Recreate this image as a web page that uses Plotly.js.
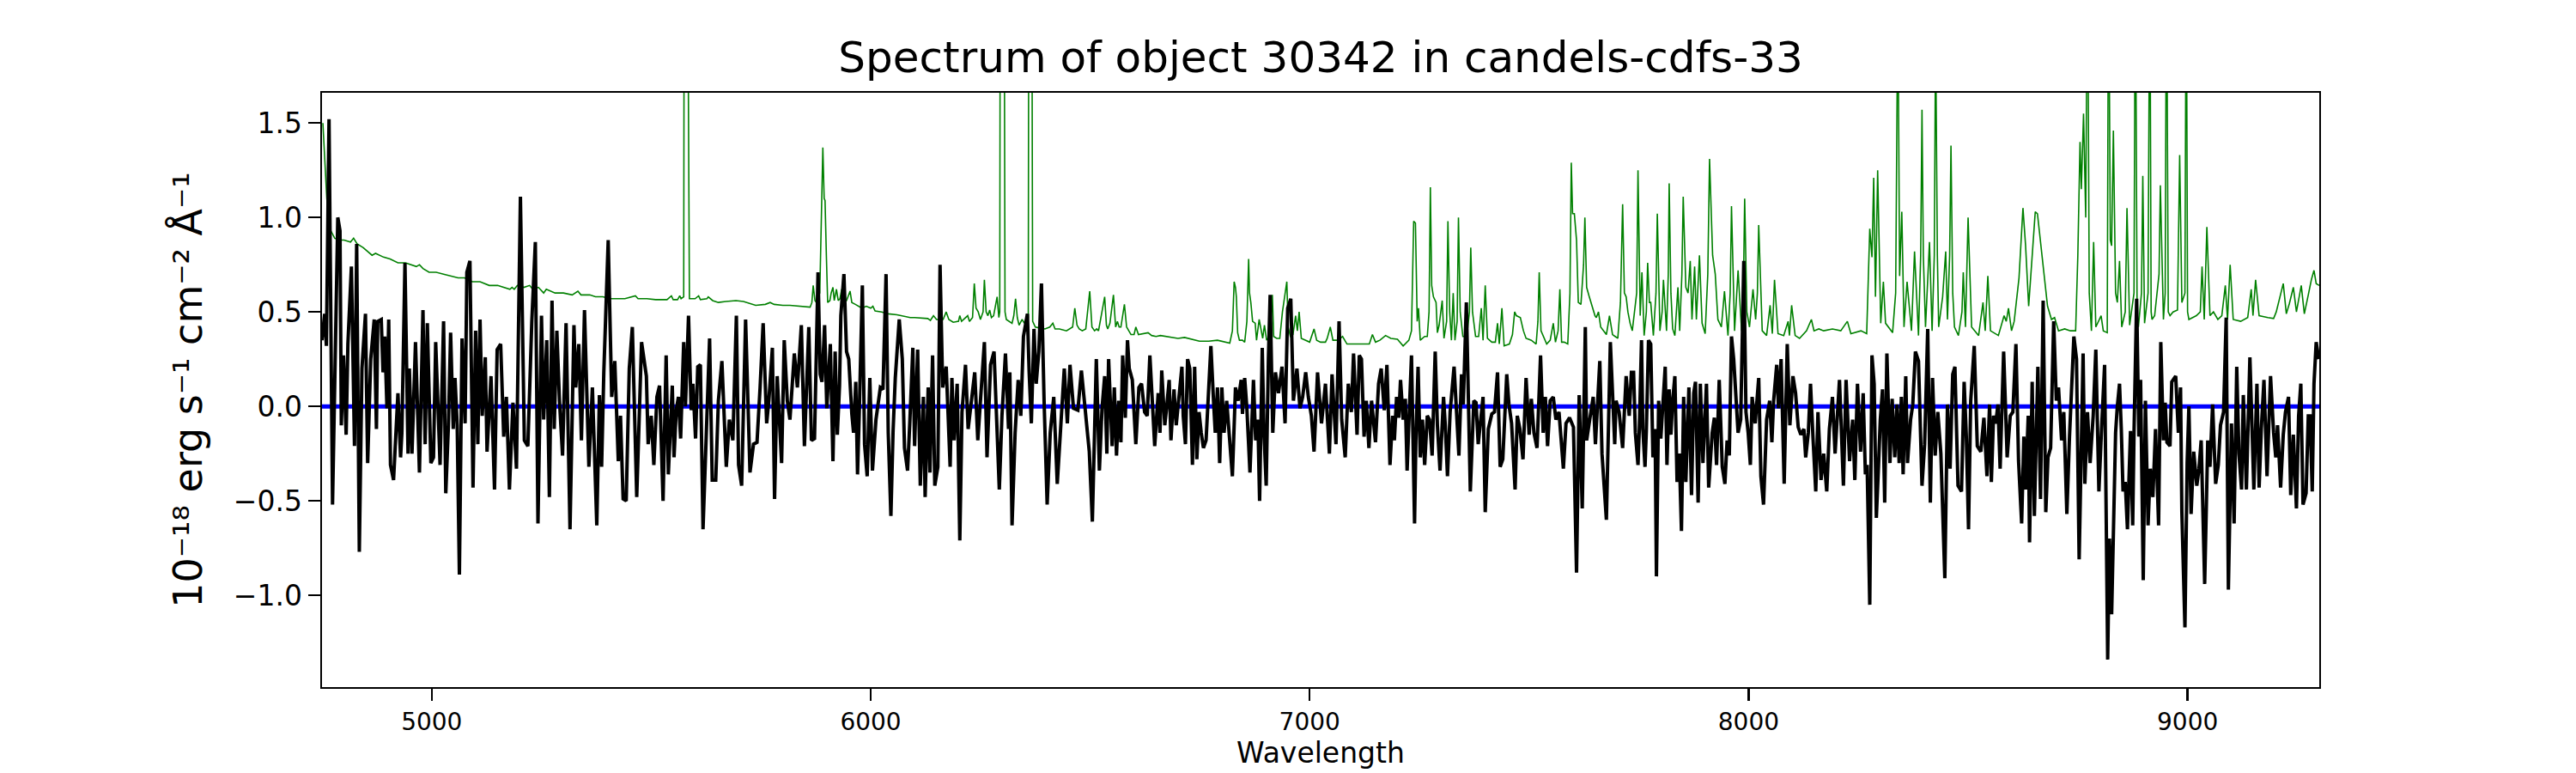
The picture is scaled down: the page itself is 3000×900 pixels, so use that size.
<!DOCTYPE html>
<html>
<head>
<meta charset="utf-8">
<script src="https://cdn.plot.ly/plotly-3.0.1.min.js"></script>
<style>html,body{margin:0;padding:0;background:#fff;}#chart{width:3000px;height:900px;}</style>
</head>
<body>
<div id="chart"></div>
<script>
// Observed spectrum (black)
var specWave = [4750,4756,4760,4766,4774,4786,4791,4794,4799,4805,4809,4817,4824,4829,4835,4841,4849,4854,4861,4869,4874,4877,4885,4889,4893,4898,4902,4906,4913,4923,4929,4932,4939,4946,4949,4955,4963,4972,4980,4985,4990,4998,5004,5009,5019,5027,5032,5038,5043,5049,5053,5058,5063,5069,5076,5080,5087,5094,5100,5105,5110,5115,5122,5126,5135,5143,5149,5157,5164,5170,5177,5185,5193,5202,5211,5219,5228,5236,5242,5250,5255,5262,5268,5274,5279,5285,5291,5298,5306,5315,5324,5328,5335,5341,5348,5358,5366,5376,5382,5387,5392,5402,5410,5417,5425,5430,5436,5443,5450,5457,5467,5478,5489,5493,5500,5506,5513,5519,5527,5534,5539,
5548,5552,5557,5562,5567,5574,5578,5585,5591,5595,5601,5606,5612,5618,5624,5633,5639,5647,5653,5661,5671,5678,5686,5694,5699,5706,5715,5725,5733,5741,5748,5755,5763,5768,5776,5781,5787,5797,5803,5810,5816,5823,5826,5833,5842,5849,5859,5865,5872,5880,5885,5889,5895,5900,5908,5914,5919,5924,5929,5932,5939,5945,5950,5957,5961,5966,5970,5974,5981,5986,5992,5998,6004,6012,6022,6028,6035,6040,6046,6051,6056,6065,6072,6077,6084,6089,
6096,6100,6107,6113,6120,6124,6131,6135,6141,6146,6153,6158,6164,6172,6181,6185,6190,6197,6203,6208,6216,6222,6229,6237,6244,6250,6259,6265,6273,6281,6286,6293,6299,6307,6314,6317,6322,6329,6336,6342,6348,6357,6361,6366,6372,6377,6383,6389,6395,6402,6409,6417,6425,6433,6441,6448,6454,6462,6472,6480,6488,6498,6505,6509,6514,6521,6527,6533,6538,6542,6550,6555,6560,6565,6570,6574,6580,6585,6589,6596,6604,6611,6617,6624,6630,6636,
6642,6647,6655,6659,6663,6670,6674,6680,6684,6691,6696,6702,6709,6712,6717,6722,6727,6733,6738,6743,6748,6753,6758,6764,6769,6775,6781,6785,6790,6795,6800,6805,6811,6818,6824,6831,6837,6844,6847,6852,6857,6864,6872,6877,6882,6886,6892,6896,6901,6906,6910,6916,6922,6929,6937,6944,6950,6957,6963,6971,6978,6984,6991,6997,7004,7010,7018,7027,7036,7045,7051,7060,7067,7073,7081,7088,7095,7100,7108,7113,7118,7124,7129,7135,7141,7150,7157,7163,7170,7176,7183,
7189,7193,7198,7203,7207,7213,7218,7222,7227,7232,7239,7242,7247,7252,7257,7262,7268,7273,7279,7286,7291,7297,7305,7309,7314,7320,7329,7333,7340,7346,7350,7357,7361,7366,7374,7379,7384,7391,7395,7400,7407,7415,7421,7428,7434,7440,7444,7449,7454,7460,7468,7473,7479,7486,7493,7500,7505,7511,7518,7526,7532,7537,7542,7548,7555,7561,7568,7578,7584,7592,7601,7608,7614,7621,7628,7631,7638,7646,7651,7661,7666,7676,7685,7695,7698,7705,7713,7721,7728,7733,
7738,7742,7748,7751,7756,7759,7764,7767,7772,7777,7782,7787,7790,7795,7800,7806,7810,7814,7819,7823,7827,7832,7837,7842,7847,7852,7857,7864,7870,7875,7879,7885,7890,7896,7904,7909,7917,7922,7927,7933,7940,7946,7951,7956,7961,7966,7971,7976,7982,7989,7994,7999,8004,8008,8015,8023,8028,8034,8041,8048,8053,8057,8064,8068,8074,8081,8088,8094,8101,8107,8113,8119,8126,8130,8136,8141,8147,8153,8158,8165,8171,8178,8184,8191,8197,8207,8216,8222,8230,8237,8242,8248,8255,8261,8266,8270,8276,8281,
8286,8291,8296,8300,8305,8310,8315,8322,8327,8333,8338,8343,8348,8352,8358,8362,8369,8374,8380,8387,8395,8401,8408,8414,8419,8425,8431,8438,8447,8453,8459,8465,8470,8477,8485,8491,8496,8501,8506,8514,8521,8529,8536,8543,8549,8553,8558,8563,8568,8573,8581,8589,8596,8602,8609,8615,8622,8627,8631,8637,8640,8646,8651,8659,8665,8671,8677,8682,8688,8695,8701,8706,8713,8718,8725,8731,8741,8747,8753,8762,8766,8772,8778,8785,8791,8798,8804,8811,8818,8822,8827,
8836,8840,8845,8849,8853,8858,8863,8870,8875,8878,8884,8889,8893,8899,8904,8910,8915,8921,8927,8934,8939,8945,8949,8953,8960,8964,8973,8979,8984,8987,8994,8999,9003,9008,9014,9021,9026,9031,9039,9046,9051,9057,9064,9070,9075,9082,9088,9093,9100,9106,9112,9117,9123,9127,9134,9142,9147,9151,9158,9163,9168,9174,9181,9189,9196,9201,9205,9212,9218,9223,9230,9235,9241,9248,9253,9258,9263,9270,9275,9279,9284,9288,9293,9299];
var specFlux = [0.35,0.49,0.32,1.52,-0.52,1.00,0.93,-0.10,0.27,-0.15,0.33,0.74,-0.21,0.86,-0.77,0.20,0.49,-0.30,0.25,0.46,-0.12,0.45,0.46,0.18,0.37,-0.01,0.46,-0.31,-0.39,0.07,-0.27,-0.14,0.76,-0.25,0.20,-0.25,0.34,-0.35,0.51,-0.20,0.44,-0.30,-0.27,0.34,-0.31,0.45,-0.46,-0.10,0.39,-0.12,0.15,-0.10,-0.89,0.36,-0.09,0.71,0.77,-0.43,0.40,-0.20,0.46,-0.05,0.26,-0.24,0.16,-0.44,0.30,0.33,-0.16,0.05,-0.44,0.02,-0.33,1.11,-0.18,-0.21,0.45,0.87,-0.62,0.48,-0.07,0.35,-0.48,0.56,-0.12,0.40,0.03,-0.26,0.44,-0.65,0.43,0.10,0.33,-0.18,0.51,-0.32,0.10,-0.63,0.06,-0.32,0.18,0.88,0.05,0.24,-0.29,-0.05,-0.49,-0.50,0.20,0.42,-0.48,0.34,0.16,-0.20,-0.05,-0.31,0.05,0.11,-0.50,0.27,-0.36,
0.11,-0.27,-0.02,0.05,-0.17,0.34,0.00,0.48,-0.02,0.12,-0.17,0.21,0.22,-0.65,-0.26,0.36,-0.39,-0.39,0.03,0.24,-0.32,-0.07,-0.18,0.48,-0.31,-0.42,0.46,-0.35,-0.20,-0.19,0.10,0.44,-0.09,0.03,0.31,-0.49,0.16,-0.30,0.35,0.03,-0.07,0.15,0.28,0.10,0.43,-0.21,0.42,-0.18,-0.17,0.71,0.17,0.13,0.43,-0.01,0.33,-0.29,0.29,-0.15,0.11,0.48,0.70,0.29,0.25,-0.04,-0.14,0.13,-0.36,-0.03,0.64,-0.20,-0.37,0.15,-0.34,-0.07,0.10,0.09,0.70,-0.14,-0.58,-0.13,0.15,0.46,0.25,-0.22,-0.34,-0.09,
0.31,-0.21,0.30,-0.42,0.05,-0.48,0.10,-0.35,0.27,-0.42,-0.32,0.75,0.10,0.21,-0.32,0.15,-0.18,0.12,-0.71,-0.03,0.22,-0.12,0.03,0.18,-0.18,0.03,0.34,-0.27,0.22,0.29,-0.07,-0.44,-0.05,0.28,-0.12,0.18,-0.63,-0.14,0.14,-0.05,0.37,0.49,0.18,-0.09,0.41,0.12,0.29,0.65,0.03,-0.52,-0.14,0.05,-0.41,-0.10,0.20,-0.09,0.22,-0.01,-0.02,0.19,-0.01,-0.24,-0.61,-0.18,0.25,-0.34,-0.01,0.16,-0.25,0.25,-0.21,0.10,-0.26,0.03,-0.19,0.27,-0.06,0.35,0.20,0.14,-0.20,0.10,0.12,-0.03,-0.05,0.27,
0.01,-0.21,0.07,-0.14,0.19,-0.10,-0.01,0.14,-0.18,0.09,-0.10,0.03,0.21,-0.05,-0.20,0.25,0.20,-0.31,0.21,-0.28,-0.03,-0.14,-0.22,-0.18,0.07,0.32,0.03,-0.14,0.10,-0.30,0.10,-0.14,0.03,-0.16,-0.37,0.10,0.03,0.14,-0.04,0.15,-0.01,-0.35,0.14,-0.18,-0.07,-0.50,0.31,-0.14,-0.42,0.25,0.59,-0.14,0.18,0.07,0.21,-0.09,0.52,0.57,0.03,0.20,-0.01,0.05,0.18,0.05,-0.05,-0.24,0.18,-0.09,0.12,-0.25,0.17,-0.20,0.45,-0.07,-0.27,0.12,-0.03,0.28,-0.15,0.27,0.25,-0.16,0.03,-0.22,0.03,-0.19,0.12,0.20,-0.02,0.22,-0.31,
-0.05,-0.18,0.05,-0.06,0.14,-0.07,0.04,-0.34,-0.03,0.27,-0.62,-0.18,0.21,-0.27,-0.07,-0.31,-0.05,-0.07,-0.26,0.29,-0.10,-0.34,0.05,-0.10,-0.37,-0.03,0.21,0.03,-0.26,0.17,0.01,0.55,-0.01,-0.45,0.03,0.02,-0.20,-0.03,0.05,-0.56,-0.12,-0.04,-0.03,0.18,-0.32,-0.28,-0.10,0.17,0.01,-0.09,-0.44,-0.05,-0.12,-0.28,0.15,-0.15,0.04,-0.14,-0.22,0.27,-0.14,0.05,-0.21,0.03,0.05,-0.07,-0.03,-0.33,-0.09,-0.06,-0.11,-0.88,0.06,-0.54,0.42,-0.18,-0.07,0.05,-0.20,0.24,-0.25,-0.60,0.34,-0.20,0.03,-0.03,-0.22,0.16,-0.05,0.18,
0.18,-0.14,-0.31,-0.12,0.35,-0.12,-0.32,-0.13,0.35,0.33,-0.27,-0.12,-0.90,0.03,-0.17,0.03,0.21,-0.31,0.09,-0.15,0.03,0.16,-0.40,-0.25,-0.66,0.05,-0.40,0.10,-0.47,0.07,0.13,-0.51,0.12,-0.30,0.12,-0.43,-0.14,-0.06,-0.31,0.14,-0.32,-0.41,-0.18,-0.26,0.37,0.25,0.05,-0.14,-0.07,0.77,-0.03,-0.14,-0.31,0.05,-0.09,0.15,-0.37,-0.52,-0.07,0.03,-0.19,0.03,0.22,-0.01,0.25,-0.41,0.33,-0.10,0.16,0.07,-0.11,-0.15,-0.12,-0.27,-0.14,0.12,-0.18,-0.45,-0.03,-0.39,-0.25,-0.45,-0.12,0.05,-0.25,0.14,-0.42,0.14,-0.29,-0.07,-0.39,0.12,-0.24,0.07,-0.36,-0.31,-1.05,0.27,
0.12,-0.59,-0.31,-0.07,0.09,-0.51,0.28,-0.30,0.04,-0.27,0.01,-0.30,0.05,-0.36,0.16,-0.30,-0.07,0.01,0.29,0.24,-0.42,-0.20,0.41,-0.51,0.15,-0.26,-0.03,-0.25,-0.91,0.01,-0.33,0.17,0.21,-0.42,-0.45,0.13,-0.16,-0.65,0.03,0.32,-0.21,-0.24,-0.06,-0.37,0.01,-0.40,-0.05,-0.09,0.01,-0.33,0.29,-0.27,-0.05,-0.03,0.33,-0.29,-0.62,-0.16,-0.44,-0.05,-0.72,0.13,-0.58,0.21,-0.49,0.56,-0.56,-0.27,-0.22,0.45,0.03,0.10,-0.18,-0.03,-0.57,-0.16,0.37,0.25,-0.81,0.28,-0.41,-0.03,-0.30,-0.05,0.30,-0.45,-0.12,0.22,-1.34,-0.70,-1.10,
-0.14,0.00,0.12,-0.12,-0.45,-0.40,-0.65,-0.13,-0.63,-0.14,0.57,-0.16,0.14,-0.92,0.03,-0.63,-0.33,-0.48,-0.12,-0.63,0.34,-0.18,0.02,-0.19,-0.21,0.13,0.16,-0.14,0.10,-0.56,-1.17,-0.30,0.00,-0.57,-0.24,-0.42,-0.33,-0.18,-0.94,-0.18,-0.32,0.01,-0.41,-0.31,-0.10,-0.03,0.47,-0.97,-0.09,-0.62,0.21,-0.25,-0.44,0.06,-0.44,0.26,-0.10,-0.44,0.12,-0.43,-0.12,0.14,-0.37,0.16,-0.14,-0.27,-0.10,-0.43,-0.15,-0.03,0.05,-0.47,-0.15,-0.54,-0.05,0.12,-0.52,-0.46,-0.05,-0.05,-0.45,0.12,0.34,0.25];

// Sky / noise spectrum (green)
var skyWave = [4752,4757,4761,4766,4770,4779,4790,4800,4815,4822,4830,4844,4864,4872,4890,4905,4923,4940,4955,4965,4972,4980,4994,5010,5027,5045,5060,5075,5092,5110,5131,5150,5164,5178,5183,5188,5195,5210,5223,5230,5243,5255,5261,5270,5281,5300,5320,5333,5340,5360,5373,5390,5405,5420,5440,5464,5470,5490,5510,5536,
5546,5550,5560,5565,5568,5574,5576,5584,5587,5590,5600,5608,5612,5627,5630,5640,5653,5670,5693,5710,5738,5760,5771,5780,5800,5816,5840,5862,5866,5869,5873,5876,5884,5888,5891,5894,5896,5899,5902,5907,5910,5914,5917,5922,5926,5930,5934,5938,5945,5953,5957,5965,5972,5980,5990,6000,6005,6010,6025,6040,6060,6070,6090,
6100,6130,6136,6143,6150,6165,6172,6178,6188,6200,6203,6207,6221,6225,6232,6236,6240,6245,6250,6256,6259,6263,6267,6271,6275,6280,6288,6292,6294,6296,6304,6306,6309,6315,6322,6326,6330,6334,6338,6345,6350,6355,6359,6361,6367,6369,6375,6385,6397,6408,6415,6420,6430,6446,6460,6465,6470,6475,6482,6490,6499,6504,6510,6515,6519,6533,6537,6540,6545,6553,6558,6562,6566,6570,6578,6583,6593,6600,6604,6610,6620,6632,6640,
6650,6660,6684,6700,6715,6730,6749,6770,6790,6818,6824,6828,6831,6833,6836,6840,6847,6852,6857,6861,6863,6866,6870,6876,6879,6885,6889,6893,6897,6902,6908,6912,6915,6918,6925,6932,6938,6948,6951,6956,6962,6968,6972,6976,6981,6990,7000,7010,7016,7025,7036,7040,7047,7053,7065,7075,7085,7101,7120,7136,7143,7150,7160,7173,7185,
7200,7213,7226,7232,7237,7241,7245,7248,7252,7262,7268,7272,7275,7278,7282,7288,7291,7295,7302,7306,7312,7315,7319,7323,7327,7331,7336,7339,7343,7349,7358,7364,7367,7371,7378,7385,7391,7395,7400,7405,7415,7423,7428,7432,7438,7443,7455,7462,7467,7471,7480,7487,7493,7505,7516,7520,7523,7527,7532,7540,7548,7555,7560,7566,7570,7574,7580,7588,7593,7596,7599,7603,7608,7612,7618,7624,7627,7631,7637,7645,7650,7653,7658,7663,7670,7676,7683,7690,7696,7702,7708,7713,7717,7721,
7725,7730,7735,7745,7748,7753,7757,7762,7767,7770,7774,7777,7783,7789,7792,7798,7803,7806,7813,7817,7819,7823,7827,7832,7839,7843,7848,7851,7857,7862,7867,7871,7877,7881,7888,7894,7901,7907,7911,7918,7924,7930,7938,7945,7953,7958,7961,7968,7976,7984,7988,7991,7996,8002,8010,8016,8020,8023,8031,8041,8049,8054,8059,8067,8080,8090,8093,8098,8106,8116,8132,8143,8149,8160,8171,8191,8210,8225,8233,8256,8269,
8276,8281,8285,8289,8294,8301,8307,8312,8328,8335,8340,8344,8349,8354,8361,8371,8378,8387,8392,8395,8398,8403,8412,8418,8423,8426,8430,8433,8442,8449,8453,8458,8461,8465,8469,8478,8486,8489,8494,8500,8508,8524,8534,8539,8545,8551,8569,8582,8587,8592,8599,8605,8616,8625,8631,8638,8646,8653,8658,8666,8674,8681,8690,8697,8706,8720,8733,8745,8750,8755,8758,8763,8768,8772,8776,8781,8786,8791,8803,8808,8817,
8820,8824,8827,8831,8836,8840,8845,8850,8858,8862,8868,8878,8881,8885,8888,8895,8898,8902,8910,8914,8917,8919,8925,8935,8938,8945,8949,8952,8956,8960,8967,8977,8982,8987,8994,8997,9000,9003,9020,9029,9033,9038,9044,9051,9059,9069,9078,9086,9091,9097,9104,9121,9137,9145,9149,9155,9163,9183,9196,9202,9218,9225,9232,9241,9248,9259,9266,9275,9282,9288,9293,9300];
var skyFlux = [1.50,1.30,1.10,0.98,0.93,0.89,0.88,0.88,0.87,0.89,0.86,0.84,0.80,0.81,0.79,0.78,0.76,0.76,0.75,0.74,0.75,0.73,0.71,0.71,0.70,0.69,0.68,0.68,0.66,0.66,0.64,0.64,0.63,0.62,0.63,0.62,0.64,0.63,0.64,0.62,0.63,0.60,0.62,0.61,0.60,0.60,0.59,0.61,0.59,0.59,0.58,0.58,0.57,0.57,0.57,0.585,0.57,0.57,0.565,0.565,
0.585,0.565,0.565,0.585,0.57,0.58,4.0,2.0,0.57,0.57,0.57,0.585,0.565,0.57,0.58,0.56,0.55,0.555,0.56,0.555,0.535,0.54,0.55,0.54,0.535,0.535,0.53,0.525,0.55,0.64,0.56,0.55,0.60,1.00,1.37,1.10,1.09,0.80,0.55,0.56,0.60,0.63,0.56,0.62,0.56,0.57,0.62,0.55,0.56,0.61,0.55,0.54,0.53,0.52,0.53,0.52,0.53,0.505,0.50,0.49,0.485,0.48,0.47,
0.47,0.465,0.455,0.48,0.46,0.46,0.50,0.46,0.445,0.45,0.48,0.45,0.48,0.45,0.47,0.65,0.52,0.50,0.46,0.50,0.67,0.50,0.48,0.51,0.47,0.48,0.58,0.47,0.50,4.0,2.5,0.50,0.46,0.45,0.44,0.48,0.57,0.47,0.43,0.46,0.44,0.47,0.47,4.0,2.5,0.45,0.42,0.415,0.41,0.42,0.44,0.41,0.41,0.40,0.42,0.52,0.43,0.41,0.40,0.41,0.61,0.42,0.40,0.41,0.40,0.58,0.43,0.41,0.44,0.59,0.42,0.45,0.42,0.42,0.54,0.42,0.38,0.38,0.42,0.38,0.385,0.39,0.375,
0.37,0.375,0.365,0.36,0.365,0.355,0.345,0.345,0.35,0.335,0.40,0.66,0.63,0.58,0.39,0.35,0.35,0.34,0.45,0.78,0.60,0.55,0.45,0.44,0.35,0.46,0.40,0.36,0.43,0.35,0.37,0.46,0.59,0.37,0.36,0.36,0.50,0.66,0.42,0.37,0.38,0.48,0.40,0.50,0.36,0.35,0.34,0.41,0.35,0.34,0.34,0.36,0.42,0.35,0.35,0.37,0.33,0.33,0.33,0.33,0.38,0.34,0.35,0.375,0.36,
0.355,0.32,0.35,0.40,0.98,0.97,0.45,0.52,0.35,0.37,0.37,0.50,1.16,0.64,0.58,0.55,0.39,0.43,0.56,0.36,0.45,0.98,0.50,0.35,0.60,0.35,0.45,1.00,0.50,0.37,0.37,0.50,0.84,0.50,0.37,0.37,0.52,0.35,0.64,0.36,0.34,0.34,0.44,0.33,0.52,0.32,0.33,0.38,0.50,0.48,0.47,0.40,0.36,0.35,0.33,0.45,0.71,0.40,0.37,0.33,0.35,0.44,0.34,0.40,0.62,0.34,0.34,0.33,0.60,1.29,1.02,1.02,0.88,0.55,0.54,0.75,1.00,0.63,0.58,0.52,0.48,0.47,0.50,0.42,0.40,0.38,0.48,0.38,0.37,0.36,0.55,1.07,0.60,0.58,
0.50,0.44,0.40,0.60,1.25,0.48,0.71,0.375,0.50,0.76,0.55,0.55,0.375,0.60,1.02,0.40,0.50,0.67,0.40,0.70,1.18,0.60,0.41,0.375,0.63,0.40,0.70,1.11,0.63,0.60,0.77,0.46,0.74,0.46,0.80,0.44,0.385,0.70,1.31,0.80,0.70,0.46,0.42,0.61,0.375,0.60,1.06,0.40,0.72,0.40,0.60,1.10,0.50,0.42,0.62,0.46,0.60,0.96,0.40,0.375,0.535,0.385,0.67,0.385,0.375,0.45,0.375,0.535,0.375,0.36,0.40,0.46,0.40,0.41,0.40,0.41,0.40,0.45,0.385,0.40,0.385,
0.94,0.79,1.21,0.58,1.25,0.44,0.66,0.44,0.39,0.60,2.20,0.69,1.03,0.42,0.66,0.40,0.82,0.375,0.80,1.57,0.80,0.42,0.87,0.40,0.80,2.00,0.80,0.42,0.58,0.82,0.46,0.80,1.38,0.60,0.42,0.375,0.50,0.71,0.42,1.00,0.42,0.375,0.55,0.40,0.69,0.40,0.375,0.48,0.45,0.52,0.40,0.45,0.68,1.05,0.85,0.53,0.78,1.03,1.02,0.85,0.67,0.53,0.46,0.47,0.40,0.41,0.40,0.40,0.80,1.40,1.15,1.55,1.00,2.50,0.60,0.40,0.87,0.42,0.48,0.40,0.39,
2.50,0.88,0.85,1.46,0.60,0.55,0.77,0.42,0.50,1.05,0.43,0.60,2.50,0.50,0.42,0.60,1.22,0.44,0.60,2.50,0.50,0.46,0.48,0.70,1.17,0.46,0.60,2.50,0.50,0.48,0.50,0.51,1.33,0.55,0.60,2.50,0.50,0.46,0.48,0.50,0.74,0.46,0.95,0.48,0.50,0.46,0.48,0.64,0.46,0.75,0.46,0.45,0.47,0.62,0.48,0.67,0.48,0.47,0.465,0.50,0.65,0.49,0.545,0.63,0.50,0.64,0.49,0.59,0.67,0.72,0.65,0.64];

// Zero level (blue)
var zeroWave = [4750, 9300];
var zeroFlux = [0, 0];

var xTicks = [5000, 6000, 7000, 8000, 9000];
var yTicks = [-1.0, -0.5, 0.0, 0.5, 1.0, 1.5];
var xRange = [4750, 9300];
var yRange = [-1.486, 1.66];

var FONT = 'DejaVu Sans, Verdana, sans-serif';

var traces = [
  {x: skyWave, y: skyFlux, type: 'scatter', mode: 'lines', line: {color: '#008000', width: 1.6}, hoverinfo: 'skip'},
  {x: zeroWave, y: zeroFlux, type: 'scatter', mode: 'lines', line: {color: '#0000ff', width: 5}, hoverinfo: 'skip'},
  {x: specWave, y: specFlux, type: 'scatter', mode: 'lines', line: {color: '#000000', width: 4}, hoverinfo: 'skip'}
];

var layout = {
  width: 3000, height: 900,
  margin: {l: 375, r: 299, t: 108, b: 100, pad: 0},
  paper_bgcolor: '#ffffff', plot_bgcolor: '#ffffff',
  showlegend: false,
  font: {family: FONT, color: '#000000'},
  title: {text: 'Spectrum of object 30342 in candels-cdfs-33', font: {family: FONT, size: 50, color: '#000'},
          x: 0.5127, xref: 'container', xanchor: 'center', y: 1 - 66/900, yref: 'container', yanchor: 'middle'},
  xaxis: {
    range: xRange, tickvals: xTicks, ticktext: xTicks.map(String),
    showgrid: false, zeroline: false, showline: true, mirror: true,
    linecolor: '#000', linewidth: 2.4, ticks: 'outside', ticklen: 14, tickwidth: 2.4, tickcolor: '#000',
    tickfont: {family: FONT, size: 28, color: '#000'},
    title: {text: 'Wavelength', font: {family: FONT, size: 33, color: '#000'}, standoff: 6}
  },
  yaxis: {
    range: yRange, tickvals: yTicks, tickformat: '.1f',
    showgrid: false, zeroline: false, showline: true, mirror: true,
    linecolor: '#000', linewidth: 2.4, ticks: 'outside', ticklen: 14, tickwidth: 2.4, tickcolor: '#000',
    tickfont: {family: FONT, size: 33, color: '#000'},
    title: {text: '10⁻¹⁸ erg s⁻¹ cm⁻² Å⁻¹', font: {family: FONT, size: 46, color: '#000'}, standoff: 22}
  }
};

Plotly.newPlot('chart', traces, layout, {staticPlot: true, displayModeBar: false});
</script>
</body>
</html>
